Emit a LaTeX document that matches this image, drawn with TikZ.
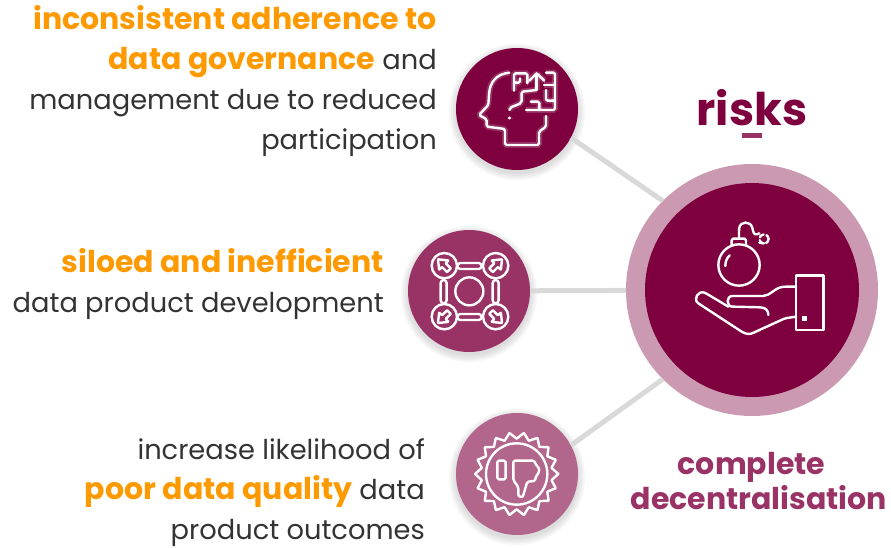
\documentclass[tikz,border=0pt]{standalone}
\usepackage{fontspec}
\setmainfont{Poppins}
\usetikzlibrary{positioning,arrows.meta,shapes.geometric}
\definecolor{maroon}{HTML}{7F003F}
\definecolor{plum}{HTML}{993366}
\definecolor{mauve}{HTML}{B2668C}
\definecolor{ringpink}{HTML}{CC99B2}
\definecolor{accent}{HTML}{FF9900}
\definecolor{bodygrey}{HTML}{333333}
\definecolor{linkgrey}{HTML}{D9D9D9}
\tikzset{
  disc/.style={circle, minimum size=122pt, inner sep=0pt, outer sep=0pt},
  link/.style={draw=linkgrey, line width=5pt},
  blurb/.style={font=\fontsize{27.3}{40}\selectfont, text=bodygrey, align=right, inner sep=0pt, anchor=east},
  heading/.style={font=\fontsize{30}{35}\selectfont\bfseries, align=center, inner sep=0pt},
  icon/.style={draw=white, line width=2.4pt, line join=round, line cap=round, rounded corners=1.5pt},
  glowicon/.style={icon, preaction={draw=white, opacity=0.18, line width=6pt}},
}
\newcommand{\hl}[1]{\textcolor{accent}{\fontsize{30}{40}\selectfont\textbf{#1}}}
\newcommand{\softshadow}[3]{%
  \foreach \grow in {7,5,3,1}
    \fill[black, opacity=0.035] (#1,#2+3) circle ({#3+\grow});
}
\begin{document}
\begin{tikzpicture}[x=1pt,y=-1pt]
  \useasboundingbox (0,0) rectangle (891,548);

  \softshadow{517}{109}{61}
  \softshadow{469}{291}{61}
  \softshadow{517}{474}{61}

  \node[disc, fill=maroon] (brain) at (517,109) {};
  \node[disc, fill=plum] (silo) at (469,291) {};
  \node[disc, fill=mauve] (thumb) at (517,474) {};
  \node[disc, fill=ringpink, minimum size=252pt] (ring) at (752,290) {};
  \node[disc, fill=maroon, minimum size=214pt] (core) at (752,290) {};

  \draw[link] (brain.-28) -- (ring.135);
  \draw[link] (silo) -- (ring);
  \draw[link] (thumb.28) -- (ring.225);

  \node[blurb] (text1) at (437,81) {\hl{inconsistent adherence to}\\\hl{data governance} and\\management due to reduced\\participation};
  \node[blurb] (text2) at (384,284) {\hl{siloed and inefficient}\\data product development};
  \node[blurb] (text3) at (425,493) {increase likelihood of\\\hl{poor data quality} data\\product outcomes};

  \node[heading, text=maroon, font=\fontsize{45}{46}\selectfont\bfseries] (risks) at (752,108) {risks};
  \node[fill=plum, minimum width=20pt, minimum height=5pt, inner sep=0pt] (bar) at (752,136) {};
  \node[heading, text=plum] (title) at (759,481) {complete\hspace*{15pt}\\decentralisation};

  % head
  \begin{scope}[shift={(440,30)}, scale=1/3]
    \draw[glowicon] (208,128) .. controls (170,132) and (150,155) .. (147,195) -- (145,225) -- (117,255) -- (140,268) -- (140,290) -- (195,297) -- (195,345) -- (297,345) -- (297,305) -- (318,290) -- (318,258);
    \draw[glowicon] (222,182) -- (222,130) -- (262,130) -- (262,160);
    \draw[glowicon] (222,158) -- (240,158) -- (240,145);
    \draw[glowicon] (290,180) -- (290,130);
    \draw[glowicon] (268,152) -- (290,130) -- (313,152);
    \draw[glowicon] (208,240) .. controls (208,225) and (245,228) .. (245,208) -- (245,185) -- (290,180);
    \draw[glowicon] (318,128) -- (345,128) -- (345,240) -- (258,240);
    \draw[glowicon] (272,215) -- (298,215) -- (298,240);
    \draw[glowicon] (312,165) -- (345,165);
    \draw[glowicon] (318,180) -- (318,212) -- (345,212);
    \draw[glowicon] (209,263) -- (209,265);
  \end{scope}

  % arrows in a square
  \begin{scope}[shift={(400,220)}, scale=1/3]
    \draw[icon] (208,214) circle (42);
    \draw[icon, rounded corners=3pt] (172,129) rectangle (245,147);
    \draw[icon, rounded corners=3pt] (172,282) rectangle (245,300);
    \draw[icon, rounded corners=3pt] (122,180) rectangle (140,250);
    \draw[icon, rounded corners=3pt] (278,180) rectangle (296,250);
    \foreach \cx/\cy/\ang in {133/137/225, 287/137/315, 133/290/135, 287/290/45} {
      \draw[icon] (\cx,\cy) circle (38);
      \begin{scope}[shift={(\cx,\cy)}]
        \draw[icon, rounded corners=0.5pt] (\ang:27) -- (\ang+84:20) -- (\ang+76:8) -- (\ang+158:21) -- (\ang+202:21) -- (\ang-76:8) -- (\ang-84:20) -- cycle;
      \end{scope}
    }
  \end{scope}

  % thumbs down seal
  \begin{scope}[shift={(440,400)}, scale=1/3]
    \begin{scope}[shift={(230,222)}]
      \draw[icon, rounded corners=0.5pt] (0:125)
        \foreach \a in {0,20,...,340} { -- (\a+10:106) -- (\a+20:125) } -- cycle;
      \draw[icon] (0,0) circle (92);
    \end{scope}
    \draw[icon] (172,182) rectangle (197,238);
    \draw[icon] (220,182) -- (283,182) -- (288,195) -- (298,205) -- (296,220) -- (288,228) -- (285,243) -- (262,245) -- (250,285) .. controls (247,292) and (236,292) .. (235,282) -- (235,262) -- (220,240) -- cycle;
  \end{scope}

  % bomb on a hand
  \begin{scope}[shift={(660,190)}, scale=1/3]
    \draw[icon] (237,225) circle (62);
    \draw[icon] (215,165) -- (215,146) -- (258,146) -- (258,165);
    \draw[icon] (237,146) -- (237,120) .. controls (240,92) and (272,92) .. (278,118) .. controls (282,135) and (288,135) .. (298,130);
    \draw[icon] (298,158) -- (312,160);
    \draw[icon, dash pattern=on 5pt off 3pt] (312,147) circle (14);
    \draw[icon] (196,228) .. controls (196,215) and (200,205) .. (209,196);
    \draw[icon, rounded corners=0pt] (408,257) rectangle (490,420);
    \fill[white] (427,378) rectangle (441,392);
    \draw[icon] (408,290) -- (375,290) .. controls (345,292) and (330,318) .. (305,318) -- (222,318) .. controls (198,318) and (198,350) .. (222,350) -- (300,352) .. controls (318,354) and (325,362) .. (325,375);
    \draw[icon] (408,380) -- (375,385) -- (285,426) .. controls (270,434) and (258,432) .. (245,425) -- (118,342) .. controls (98,328) and (115,300) .. (138,310) -- (205,350);
  \end{scope}
\end{tikzpicture}
\end{document}
